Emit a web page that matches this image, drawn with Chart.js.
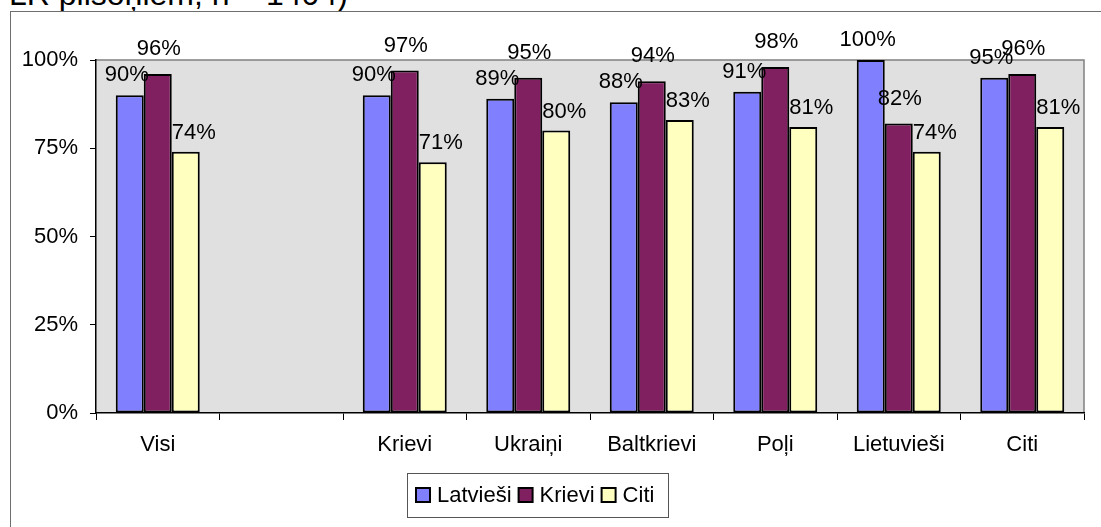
<!DOCTYPE html>
<html>
<head>
<meta charset="utf-8">
<script src="https://cdn.jsdelivr.net/npm/chart.js@4.4.0/dist/chart.umd.min.js"></script>
<style>
  body { margin: 0; width: 1101px; height: 527px; overflow: hidden; background: #fff; position: relative;
         font-family: 'Liberation Sans', Arial, sans-serif; }
  #title { position: absolute; left: 9px; top: -22px; font-size: 32px; line-height: 32px; white-space: nowrap; color: #000; }
  #frame { position: absolute; left: 10px; top: 11px; width: 1200px; height: 600px; border: 1px solid #6e6e6e; }
  #wrap { position: absolute; left: 0; top: 0; width: 1101px; height: 527px; }
</style>
</head>
<body>
<div id="title">LR pilsoņiem, n = 1404)</div>
<div id="frame"></div>
<div id="wrap"><canvas id="chart" width="1101" height="527"></canvas></div>
<script>
// grupas (otrā kategorija ir tukša atstarpe)
const categories = ['Visi', '', 'Krievi', 'Ukraiņi', 'Baltkrievi', 'Poļi', 'Lietuvieši', 'Citi'];
const seriesNames = ['Latvieši', 'Krievi', 'Citi'];
const latviesi = [90, null, 90, 89, 88, 91, 100, 95];
const krievi   = [96, null, 97, 95, 94, 98, 82, 96];
const citi     = [74, null, 71, 80, 83, 81, 74, 81];
const yTicks = [0, 25, 50, 75, 100];

const colors = ['#8080FF', '#802060', '#FFFFC0'];
const FONT = "'Liberation Sans', Arial, sans-serif";

// pelēkais fons zīmēšanas laukumam
const plotBg = {
    id: 'plotBg',
    beforeDraw(chart) {
        const { ctx, chartArea: a } = chart;
        ctx.save();
        ctx.fillStyle = '#E0E0E0';
        ctx.fillRect(a.left, a.top, a.right - a.left, a.bottom - a.top);
        ctx.strokeStyle = '#808080';
        ctx.lineWidth = 1.5;
        ctx.beginPath();
        ctx.moveTo(a.left, a.top);
        ctx.lineTo(a.right, a.top);
        ctx.lineTo(a.right, a.bottom);
        ctx.stroke();
        ctx.restore();
    }
};

// vērtību uzraksti virs stabiņiem
const valueLabels = {
    id: 'valueLabels',
    afterDatasetsDraw(chart) {
        const { ctx } = chart;
        const shift = [{ dx: -3, gap: 14 }, { dx: 1, gap: 19 }, { dx: 8, gap: 13 }];
        ctx.save();
        ctx.font = '22px ' + FONT;
        ctx.fillStyle = '#000';
        ctx.textAlign = 'center';
        ctx.textBaseline = 'alphabetic';
        chart.data.datasets.forEach((ds, i) => {
            chart.getDatasetMeta(i).data.forEach((bar, j) => {
                const v = ds.data[j];
                if (v == null) return;
                ctx.fillText(v + '%', bar.x + shift[i].dx, bar.y - shift[i].gap);
            });
        });
        ctx.restore();
    }
};

// leģenda rāmītī
const boxedLegend = {
    id: 'boxedLegend',
    afterDraw(chart) {
        const { ctx } = chart;
        const centerX = 538, top = 473, height = 44;
        const box = 14, gapText = 7, gapItem = 7, padL = 9, padR = 14;
        ctx.save();
        ctx.font = '22px ' + FONT;
        const items = chart.data.datasets.map(ds => ({ text: ds.label, color: ds.backgroundColor, w: ctx.measureText(ds.label).width }));
        let content = items.reduce((s, it) => s + box + gapText + it.w, 0) + gapItem * (items.length - 1);
        const width = content + padL + padR;
        const left = Math.round(centerX - width / 2);
        ctx.strokeStyle = '#555';
        ctx.lineWidth = 1;
        ctx.strokeRect(left + 0.5, top + 0.5, Math.round(width), height);
        const midY = top + height / 2;
        let x = left + padL;
        items.forEach(it => {
            ctx.fillStyle = it.color;
            ctx.fillRect(x, midY - box / 2, box, box);
            ctx.strokeStyle = '#000';
            ctx.lineWidth = 2;
            ctx.strokeRect(x, midY - box / 2, box, box);
            ctx.fillStyle = '#000';
            ctx.textBaseline = 'middle';
            ctx.textAlign = 'left';
            ctx.fillText(it.text, x + box + gapText, midY + 1);
            x += box + gapText + it.w + gapItem;
        });
        ctx.restore();
    }
};

new Chart(document.getElementById('chart'), {
    type: 'bar',
    data: {
        labels: categories,
        datasets: [latviesi, krievi, citi].map((d, i) => ({
            label: seriesNames[i],
            data: d,
            backgroundColor: colors[i],
            borderColor: '#000',
            borderWidth: 2,
            borderSkipped: false,
            categoryPercentage: 0.68,
            barPercentage: 1
        }))
    },
    options: {
        responsive: false,
        animation: false,
        devicePixelRatio: 1,
        layout: { padding: { top: 60, right: 17, left: 0, bottom: 0 } },
        plugins: {
            legend: { display: false },
            tooltip: { enabled: false }
        },
        scales: {
            x: {
                grid: { offset: true, drawOnChartArea: false, tickLength: 7, color: '#000', lineWidth: 1 },
                border: { color: '#000', width: 1.5 },
                ticks: { color: '#000', font: { family: FONT, size: 22 }, padding: 12, maxRotation: 0, autoSkip: false },
                afterFit(scale) { scale.height = 114; }
            },
            y: {
                min: 0,
                max: 100,
                afterBuildTicks(scale) { scale.ticks = yTicks.map(v => ({ value: v })); },
                grid: { drawOnChartArea: false, tickLength: 6, color: '#000', lineWidth: 1 },
                border: { color: '#000', width: 1.5 },
                ticks: { color: '#000', font: { family: FONT, size: 22 }, padding: 12, callback: v => v + '%' },
                afterFit(scale) { scale.width = 96; }
            }
        }
    },
    plugins: [plotBg, valueLabels, boxedLegend]
});
</script>
</body>
</html>
